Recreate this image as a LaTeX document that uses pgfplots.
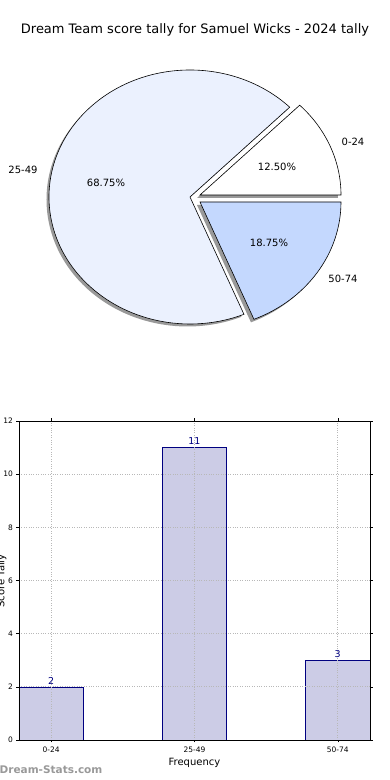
\documentclass[border=0pt]{standalone}
\usepackage{pgfplots}
\usepackage{pgfplotstable}
\pgfplotsset{compat=1.18}
\usepackage{fontspec}
\setmainfont{DejaVu Sans}
\definecolor{sliceA}{HTML}{FFFFFF}
\definecolor{sliceB}{HTML}{EBF1FE}
\definecolor{sliceC}{HTML}{C4D8FE}
\definecolor{barfill}{HTML}{CCCCE6}
\definecolor{baredge}{HTML}{000080}
\definecolor{wm}{HTML}{999999}

\pgfplotstableread{
label count
0-24 2
25-49 11
50-74 3
}\tally

\newcommand{\pieslice}[5]{% cx, cy, start, end, style
  \fill[#5] (axis cs:#1,#2) -- (axis cs:{#1+141*cos(#3)},{#2+127*sin(#3)})
     arc[start angle=#3,end angle=#4,x radius=141pt,y radius=127pt] -- cycle;
}
\newcommand{\pct}[1]{\pgfmathprintnumber[fixed,fixed zerofill,precision=2,assume math mode=true]{#1}\%}

\begin{document}
\begin{tikzpicture}
\pgfplotstablegetelem{0}{count}\of\tally \let\cA\pgfplotsretval
\pgfplotstablegetelem{1}{count}\of\tally \let\cB\pgfplotsretval
\pgfplotstablegetelem{2}{count}\of\tally \let\cC\pgfplotsretval
\pgfmathsetmacro{\tot}{\cA+\cB+\cC}
\pgfmathsetmacro{\aA}{360*\cA/\tot}
\pgfmathsetmacro{\aB}{\aA+360*\cB/\tot}
\pgfmathsetmacro{\pA}{100*\cA/\tot}
\pgfmathsetmacro{\pB}{100*\cB/\tot}
\pgfmathsetmacro{\pC}{100*\cC/\tot}

% pie chart in a hidden axis, 1 unit = 1pt
\begin{axis}[at={(0,0)}, anchor=south west, scale only axis,
  width=390pt, height=780pt, xmin=0, xmax=390, ymin=0, ymax=780,
  hide axis, clip=false]
  % shadows
  \pieslice{197}{582}{0}{\aA}{black!40}
  \pieslice{187.5}{580.5}{\aA}{\aB}{black!40}
  \pieslice{197}{575}{\aB}{360}{black!40}
  % slices
  \pieslice{200}{585}{0}{\aA}{fill=sliceA,draw=black,line width=0.6pt}
  \pieslice{190}{583}{\aA}{\aB}{fill=sliceB,draw=black,line width=0.6pt}
  \pieslice{200}{578}{\aB}{360}{fill=sliceC,draw=black,line width=0.6pt}
  % labels
  \node[font=\fontsize{10}{12}\selectfont] at (axis cs:353,638) {0-24};
  \node[font=\fontsize{10}{12}\selectfont] at (axis cs:23,610) {25-49};
  \node[font=\fontsize{10}{12}\selectfont] at (axis cs:343,501) {50-74};
  \node[font=\fontsize{10}{12}\selectfont] at (axis cs:277,613) {\pct{\pA}};
  \node[font=\fontsize{10}{12}\selectfont] at (axis cs:106,597) {\pct{\pB}};
  \node[font=\fontsize{10}{12}\selectfont] at (axis cs:269,537) {\pct{\pC}};
  % title
  \node[font=\fontsize{13}{15}\selectfont] at (axis cs:195,750) {Dream Team score tally for Samuel Wicks - 2024 tally};
\end{axis}

% bar chart
\begin{axis}[at={(19pt,40pt)}, anchor=south west, scale only axis,
  width=351pt, height=319pt,
  xmin=-0.225, xmax=2.225, ymin=0, ymax=12,
  ytick={0,2,...,12}, xtick={0,1,2},
  xticklabels={0-24,25-49,50-74},
  axis on top,
  grid=major, grid style={dotted, black!28, line width=0.9pt},
  axis line style={line width=0.7pt},
  tick style={black, line width=0.5pt},
  tick align=outside, major tick length=2.5pt,
  tick label style={font=\fontsize{7.5}{8}\selectfont},
  x tick label style={yshift=-1pt},
  /pgf/number format/assume math mode=true,
  xlabel={Frequency},
  xlabel style={font=\fontsize{10}{12}\selectfont, yshift=1pt},
  ]
  \addplot[ybar, bar width=0.45, fill=barfill, draw=baredge, line width=0.6pt,
    nodes near coords,
    every node near coord/.append style={font=\fontsize{9.5}{11}\selectfont, text=baredge, yshift=-1pt}]
    table[x expr=\coordindex, y=count]{\tally};
\end{axis}

% cut-off y label
\node[rotate=90, anchor=base, font=\fontsize{10}{12}\selectfont] at (4.5pt,199pt) {Score Tally};
% watermark
\node[anchor=west, inner sep=0pt, font=\bfseries\fontsize{10.5}{12}\selectfont, text=wm] at (-0.5pt,10pt) {Dream-Stats.com};

\pgfresetboundingbox
\useasboundingbox (0,0) rectangle (390pt,780pt);
\end{tikzpicture}
\end{document}
